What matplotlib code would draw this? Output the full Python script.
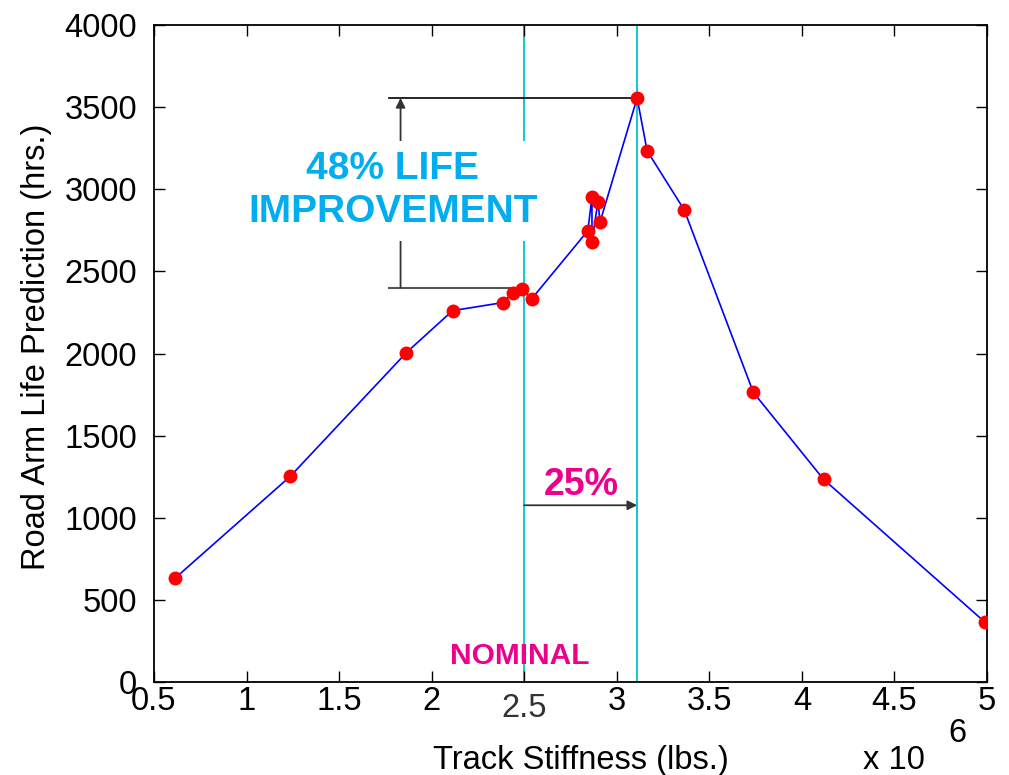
import matplotlib
matplotlib.use('Agg')
import matplotlib.pyplot as plt

plt.rcParams['font.family'] = ['Liberation Sans', 'DejaVu Sans']

# track stiffness (x 10^6 lbs.) and predicted road arm life (hrs.)
stiffness = [0.614, 1.236, 1.864, 2.113, 2.384, 2.438, 2.487, 2.541,
             2.844, 2.866, 2.866, 2.898, 2.910, 3.110, 3.164, 3.364,
             3.738, 4.117, 4.988]
life = [632, 1252, 2006, 2261, 2310, 2371, 2395, 2334,
        2748, 2954, 2681, 2924, 2802, 3556, 3234, 2875,
        1763, 1234, 365]

nominal_x = 2.5
best_x = 3.11
best_life = 3556
nominal_life = 2401
xticks = [0.5, 1, 1.5, 2, 2.5, 3, 3.5, 4, 4.5, 5]
xticklabels = ['0.5', '1', '1.5', '2', '', '3', '3.5', '4', '4.5', '5']
yticks = [0, 500, 1000, 1500, 2000, 2500, 3000, 3500, 4000]

cyan = '#00C4CC'
blue_txt = '#00AEEF'
magenta = '#EC008C'

fig = plt.figure(figsize=(10.09, 7.75), dpi=100)
ax = fig.add_axes([0.1526, 0.12, 0.8256, 0.8477])

# vertical reference lines
ax.axvline(nominal_x, color=cyan, lw=1.3, zorder=1)
ax.axvline(best_x, color=cyan, lw=1.3, zorder=1)

# data
ax.plot(stiffness, life, color='#0000FF', lw=1.2, marker='o', ms=9,
        mfc='#FF0000', mec='#FF0000', zorder=4)

# 48% life improvement bracket
ax.plot([1.767, best_x], [best_life, best_life], color='black', lw=1.2, zorder=2)
ax.plot([1.767, 2.49], [nominal_life, nominal_life], color='#555555', lw=1.5, zorder=2)
ax.annotate('', xy=(1.832, best_life), xytext=(1.832, nominal_life),
            arrowprops=dict(arrowstyle='-|>', color='#333333', lw=1.3,
                            mutation_scale=14, shrinkA=0, shrinkB=0), zorder=2)
ax.text(1.789, 2990, '48% LIFE\nIMPROVEMENT', color=blue_txt, fontsize=28,
        fontweight='bold', ha='center', va='center', linespacing=1.25,
        bbox=dict(boxstyle='square,pad=0.28', fc='white', ec='none'), zorder=3)

# 25% stiffness increase arrow
ax.annotate('', xy=(best_x, 1076), xytext=(nominal_x, 1076),
            arrowprops=dict(arrowstyle='-|>', color='#333333', lw=1.3,
                            mutation_scale=14, shrinkA=0, shrinkB=0), zorder=2)
ax.text(2.806, 1200, '25%', color=magenta, fontsize=27, fontweight='bold',
        ha='center', va='center')
ax.text(2.475, 160, 'NOMINAL', color=magenta, fontsize=21.5, fontweight='bold',
        ha='center', va='center')

ax.set_xlim(0.5, 5)
ax.set_ylim(0, 4000)
ax.set_xticks(xticks)
ax.set_xticklabels(xticklabels)
ax.set_yticks(yticks)
ax.tick_params(direction='in', length=8, width=1, labelsize=23.5,
               top=True, right=True)
ax.tick_params(axis='x', pad=3)
ax.tick_params(axis='y', pad=12)
for s in ax.spines.values():
    s.set_linewidth(1.3)

# the nominal tick label sits a little lower, in dark gray
ax.annotate('2.5', xy=(nominal_x, 0), xycoords=('data', 'axes fraction'),
            xytext=(0, -8), textcoords='offset points', ha='center', va='top',
            fontsize=23.5, color='#333333')

ax.set_xlabel('Track Stiffness (lbs.)', fontsize=23.5)
ax.xaxis.set_label_coords(0.5126, -0.096)
ax.set_ylabel('Road Arm Life Prediction (hrs.)', fontsize=23.5)
ax.yaxis.set_label_coords(-0.123, 0.51)

# scale factor
ax.text(0.888, -0.12, 'x 10', transform=ax.transAxes, fontsize=23.5,
        ha='center', va='center')
ax.text(0.965, -0.079, '6', transform=ax.transAxes, fontsize=23.5,
        ha='center', va='center')

fig.savefig('out.png', dpi=100)
